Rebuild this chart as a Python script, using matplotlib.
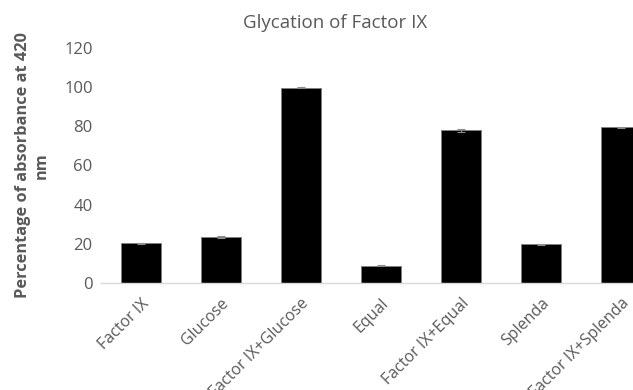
import matplotlib.pyplot as plt

samples = ["Factor IX", "Glucose", "Factor IX+Glucose", "Equal",
           "Factor IX+Equal", "Splenda", "Factor IX+Splenda"]
absorbance = [20.2, 23.6, 99.8, 8.9, 77.9, 19.7, 79.4]
errors = [0.4, 0.4, 0.4, 0.4, 0.6, 0.4, 0.4]
yticks = [0, 20, 40, 60, 80, 100, 120]

plt.rcParams['font.family'] = ['Open Sans', 'DejaVu Sans']

fig = plt.figure(figsize=(6.33, 3.90), dpi=100)
ax = fig.add_axes([0.1596, 0.2744, 0.8847, 0.6026])

x = range(len(samples))
ax.bar(x, absorbance, width=0.5, color="black", edgecolor="#7f7f7f", linewidth=0.6, zorder=2)
ax.errorbar(x, absorbance, yerr=errors, fmt="none", ecolor="#8c8c8c",
            elinewidth=0.8, capsize=3, capthick=0.8, zorder=3)

ax.set_xlim(-0.5, len(samples) - 0.5)
ax.set_ylim(0, 120)
ax.set_yticks(yticks)
ax.set_xticks(list(x))
ax.set_xticklabels(samples, rotation=45, ha="right", rotation_mode="anchor")
ax.tick_params(axis="both", length=0, labelcolor="#595959")
ax.tick_params(axis="y", labelsize=12, pad=6)
ax.tick_params(axis="x", labelsize=11.5, pad=9)

for side in ["top", "right", "left"]:
    ax.spines[side].set_visible(False)
ax.spines["bottom"].set_color("#d9d9d9")
ax.spines["bottom"].set_linewidth(1)

# title centred on the visible part of the figure
fig.text(335 / 633, 1 - 23 / 390, "Glycation of Factor IX", fontsize=13.5,
         color="#595959", ha="center", va="center")
ax.set_ylabel("Percentage of absorbance at 420\nnm", fontsize=11.8, fontweight="bold",
              color="#595959", linespacing=1.25, labelpad=10)

fig.savefig("out.png", dpi=100)
